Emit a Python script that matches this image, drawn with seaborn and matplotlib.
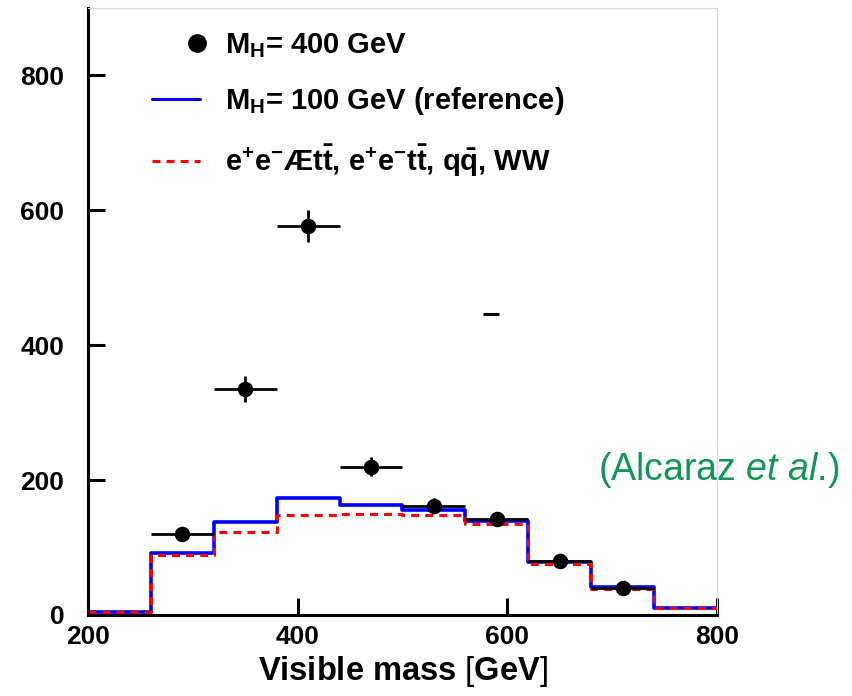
import numpy as np
import pandas as pd
import matplotlib
matplotlib.use("Agg")
import matplotlib.pyplot as plt
import seaborn as sns
from matplotlib.lines import Line2D
from matplotlib.legend_handler import HandlerLine2D

# ---- data ----
bin_edges = [200, 260, 320, 380, 440, 500, 560, 620, 680, 740, 800]
bin_centers = [230, 290, 350, 410, 470, 530, 590, 650, 710, 770]
ref_mh100 = [5, 92, 138, 174, 163, 156, 139, 79, 42, 10]
background = [5, 89, 123, 148, 150, 149, 135, 76, 39, 10]

sig_x = [290, 350, 410, 470, 530, 590, 650, 710]
sig_y = [120, 335, 577, 220, 162, 142, 80, 40]
sig_yerr = [10, 19, 24, 14, 11, 10, 8, 6]
sig_xerr = [30, 30, 30, 30, 30, 30, 30, 30]

stray_x = [584]
stray_y = [447]

x_ticks = [200, 400, 600, 800]
y_ticks = [0, 200, 400, 600, 800]

labels = [r"$\mathbf{M_{H}}$= 400 GeV",
          r"$\mathbf{M_{H}}$= 100 GeV (reference)",
          r"$\mathbf{e^{+}e^{-}}$Æ$\mathbf{t\bar{t}}$, $\mathbf{e^{+}e^{-}t\bar{t}}$, $\mathbf{q\bar{q}}$, WW"]

# ---- style ----
sns.set_theme(style="ticks")
plt.rcParams['font.family'] = ['Liberation Sans', 'DejaVu Sans']
plt.rcParams['mathtext.fontset'] = 'custom'
plt.rcParams['mathtext.rm'] = 'Liberation Sans'
plt.rcParams['mathtext.bf'] = 'Liberation Sans:bold'
plt.rcParams['mathtext.it'] = 'Liberation Sans:italic'
for k in ['text.color', 'axes.labelcolor', 'xtick.color', 'ytick.color']:
    plt.rcParams[k] = 'black'

fig = plt.figure(figsize=(8.53, 6.96), dpi=100)
ax = fig.add_axes([88/853, 1 - 615/696, (717-88)/853, (615-8)/696])

df = pd.DataFrame({"x": bin_centers, "ref": ref_mh100, "bkg": background})
sns.histplot(data=df, x="x", weights="ref", bins=bin_edges, element="step",
             fill=False, color="#0000ff", linewidth=2.6, ax=ax)
sns.histplot(data=df, x="x", weights="bkg", bins=bin_edges, element="step",
             fill=False, color="#ff0000", linewidth=2.2, linestyle=(0, (2.6, 2.0)), ax=ax)

ax.errorbar(sig_x, sig_y, xerr=sig_xerr, yerr=sig_yerr, fmt='none',
            ecolor='black', elinewidth=2.0, capsize=0, zorder=4)
sns.scatterplot(x=sig_x, y=sig_y, color='black', s=125, edgecolor='black',
                linewidth=0, zorder=5, ax=ax)
ax.plot(stray_x, stray_y, marker='_', markersize=11, markeredgewidth=2.2,
        color='black', linestyle='none')

ax.set_xlim(200, 800)
ax.set_ylim(0, 900)
ax.set_xticks(x_ticks)
ax.set_yticks(y_ticks)
ax.set_xticklabels([str(t) for t in x_ticks], fontsize=19, fontweight='bold')
ax.set_yticklabels([str(t) for t in y_ticks], fontsize=19, fontweight='bold')
ax.tick_params(axis='both', direction='in', length=12, width=2.2, color='black')
ax.tick_params(axis='x', pad=7)
ax.tick_params(axis='y', pad=17)
ax.set_xlabel(r"Visible mass $[$GeV$]$", fontsize=23.5, fontweight='bold', labelpad=4)
ax.set_ylabel("")

for s in ['left', 'bottom']:
    ax.spines[s].set_linewidth(2.2)
    ax.spines[s].set_color('black')
for s in ['top', 'right']:
    ax.spines[s].set_visible(True)
    ax.spines[s].set_linewidth(0.8)
    ax.spines[s].set_color('#d8d8d8')


class RightMarkerHandler(HandlerLine2D):
    def create_artists(self, legend, orig_handle, xdescent, ydescent, width,
                       height, fontsize, trans):
        m = Line2D([width - xdescent - 2], [height / 2 - ydescent],
                   marker='o', markersize=12.5, color='black', linestyle='none')
        m.set_transform(trans)
        return [m]


dot_handle = Line2D([], [], marker='o', color='black', linestyle='none', markersize=12.5)
handles = [
    dot_handle,
    Line2D([], [], color='#0000ff', linewidth=2.2),
    Line2D([], [], color='#ff0000', linewidth=2.2, linestyle=(0, (2.6, 2.0))),
]
leg = ax.legend(handles, labels, loc='upper left', bbox_to_anchor=((152-88)/629, 0.962),
                frameon=False, prop={'size': 21, 'weight': 'bold'},
                handlelength=1.64, handletextpad=0.86, labelspacing=0.87,
                borderaxespad=0, borderpad=0,
                handler_map={dot_handle: RightMarkerHandler()})

fig.text(598/853, 1 - 470/696, r"(Alcaraz $\mathit{et}$ $\mathit{al}$.)",
         color='#139653', fontsize=27, va='center', ha='left')

fig.savefig("out.png", dpi=100)
